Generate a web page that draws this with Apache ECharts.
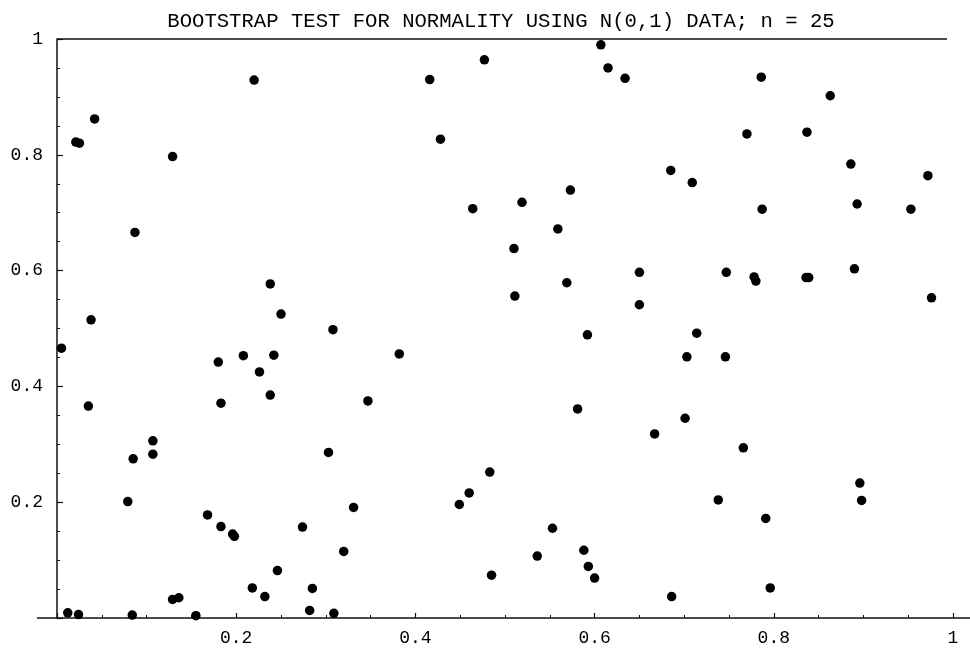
<!DOCTYPE html>
<html>
<head>
<meta charset="utf-8">
<script src="https://cdn.jsdelivr.net/npm/echarts@6/dist/echarts.min.js"></script>
<style>
html,body{margin:0;padding:0;background:#fff;}
#chart{width:970px;height:648px;}
</style>
</head>
<body>
<div id="chart"></div>
<script>
var titleText = "BOOTSTRAP TEST FOR NORMALITY USING N(0,1) DATA; n = 25";
var xTicks = [0.2, 0.4, 0.6, 0.8, 1];
var yTicks = [0.2, 0.4, 0.6, 0.8, 1];
var xs = [
  0.220, 0.042, 0.021, 0.025, 0.129, 0.087, 0.238, 0.250, 0.038,
  0.607, 0.477, 0.615, 0.634, 0.416, 0.428, 0.573, 0.519, 0.464, 0.559, 0.510, 0.650, 0.569, 0.511, 0.650, 0.308,
  0.786, 0.863, 0.770, 0.837, 0.685, 0.709, 0.886, 0.972, 0.787, 0.893, 0.953, 0.747, 0.778, 0.780, 0.836, 0.839, 0.890, 0.976,
  0.005, 0.035, 0.180, 0.208, 0.226, 0.242, 0.183, 0.238, 0.107, 0.107, 0.085, 0.303, 0.079, 0.168, 0.183, 0.196, 0.198, 0.274,
  0.246, 0.218, 0.285, 0.232, 0.129, 0.136, 0.282, 0.012, 0.024, 0.084, 0.155,
  0.309, 0.592, 0.382, 0.347, 0.581, 0.483, 0.460, 0.449, 0.331, 0.553, 0.588, 0.320, 0.536, 0.593, 0.600, 0.485,
  0.714, 0.703, 0.746, 0.701, 0.667, 0.766, 0.896, 0.898, 0.738, 0.791, 0.796, 0.686
];
var ys = [
  0.929, 0.862, 0.822, 0.820, 0.797, 0.666, 0.577, 0.525, 0.515,
  0.990, 0.964, 0.950, 0.932, 0.930, 0.827, 0.739, 0.718, 0.707, 0.672, 0.638, 0.597, 0.579, 0.556, 0.541, 0.498,
  0.934, 0.902, 0.836, 0.839, 0.773, 0.752, 0.784, 0.764, 0.706, 0.715, 0.706, 0.597, 0.589, 0.582, 0.588, 0.588, 0.603, 0.553,
  0.466, 0.366, 0.442, 0.453, 0.425, 0.454, 0.371, 0.385, 0.306, 0.283, 0.275, 0.286, 0.201, 0.178, 0.158, 0.145, 0.141, 0.157,
  0.082, 0.052, 0.051, 0.037, 0.032, 0.035, 0.013, 0.009, 0.006, 0.005, 0.004,
  0.008, 0.489, 0.456, 0.375, 0.361, 0.252, 0.216, 0.196, 0.191, 0.155, 0.117, 0.115, 0.107, 0.089, 0.069, 0.074,
  0.492, 0.451, 0.451, 0.345, 0.318, 0.294, 0.233, 0.203, 0.204, 0.172, 0.052, 0.037
];

var points = xs.map(function (x, i) { return [x, ys[i]]; });

function fmt(ticks) {
  return function (v) {
    for (var i = 0; i < ticks.length; i++) {
      if (Math.abs(ticks[i] - v) < 1e-9) return String(ticks[i]);
    }
    return '';
  };
}

var axisColor = '#111';
var font = "'Liberation Mono', 'DejaVu Sans Mono', monospace";

var chart = echarts.init(document.getElementById('chart'), null, {renderer: 'canvas'});
var option = {
  backgroundColor: '#ffffff',
  animation: false,
  title: {
    text: titleText,
    left: 496,
    top: 6,
    textAlign: 'center',
    textStyle: {fontFamily: font, fontSize: 20.6, fontWeight: 'normal', color: '#000'}
  },
  grid: {left: 57, right: 17, top: 39, bottom: 30, containLabel: false},
  xAxis: {
    type: 'value', min: 0, max: 1, interval: 0.2,
    splitLine: {show: false},
    axisLine: {show: true, onZero: false, lineStyle: {color: axisColor, width: 1.5}},
    axisTick: {show: true, inside: true, length: 5, lineStyle: {color: axisColor, width: 1.2}},
    minorTick: {show: true, splitNumber: 4, length: 3, lineStyle: {color: axisColor, width: 1}},
    axisLabel: {formatter: fmt(xTicks), margin: 11, fontFamily: font, fontSize: 18, color: '#000'}
  },
  yAxis: {
    type: 'value', min: 0, max: 1, interval: 0.2,
    splitLine: {show: false},
    axisLine: {show: true, onZero: false, lineStyle: {color: axisColor, width: 1.5}},
    axisTick: {show: true, inside: true, length: 6, lineStyle: {color: axisColor, width: 1.2}},
    minorTick: {show: true, splitNumber: 4, length: 3, lineStyle: {color: axisColor, width: 1}},
    axisLabel: {formatter: fmt(yTicks), margin: 14, fontFamily: font, fontSize: 18, color: '#000'}
  },
  series: [{
    type: 'scatter',
    data: points,
    symbol: 'circle',
    symbolSize: 9.5,
    itemStyle: {color: '#000', opacity: 1},
    z: 3
  }]
};
chart.setOption(option);

var p00 = chart.convertToPixel({gridIndex: 0}, [0, 0]);
var p11 = chart.convertToPixel({gridIndex: 0}, [1, 1]);
chart.setOption({
  graphic: [
    {type: 'line', shape: {x1: p00[0] - 20, y1: p00[1], x2: p00[0], y2: p00[1]},
     style: {stroke: axisColor, lineWidth: 1.5}, z: 10},
    {type: 'line', shape: {x1: p11[0], y1: p00[1], x2: 970, y2: p00[1]},
     style: {stroke: axisColor, lineWidth: 1.5}, z: 10},
    {type: 'line', shape: {x1: p00[0], y1: p11[1], x2: p11[0] - 6, y2: p11[1]},
     style: {stroke: axisColor, lineWidth: 1.5}, z: 10}
  ]
});
</script>
</body>
</html>
